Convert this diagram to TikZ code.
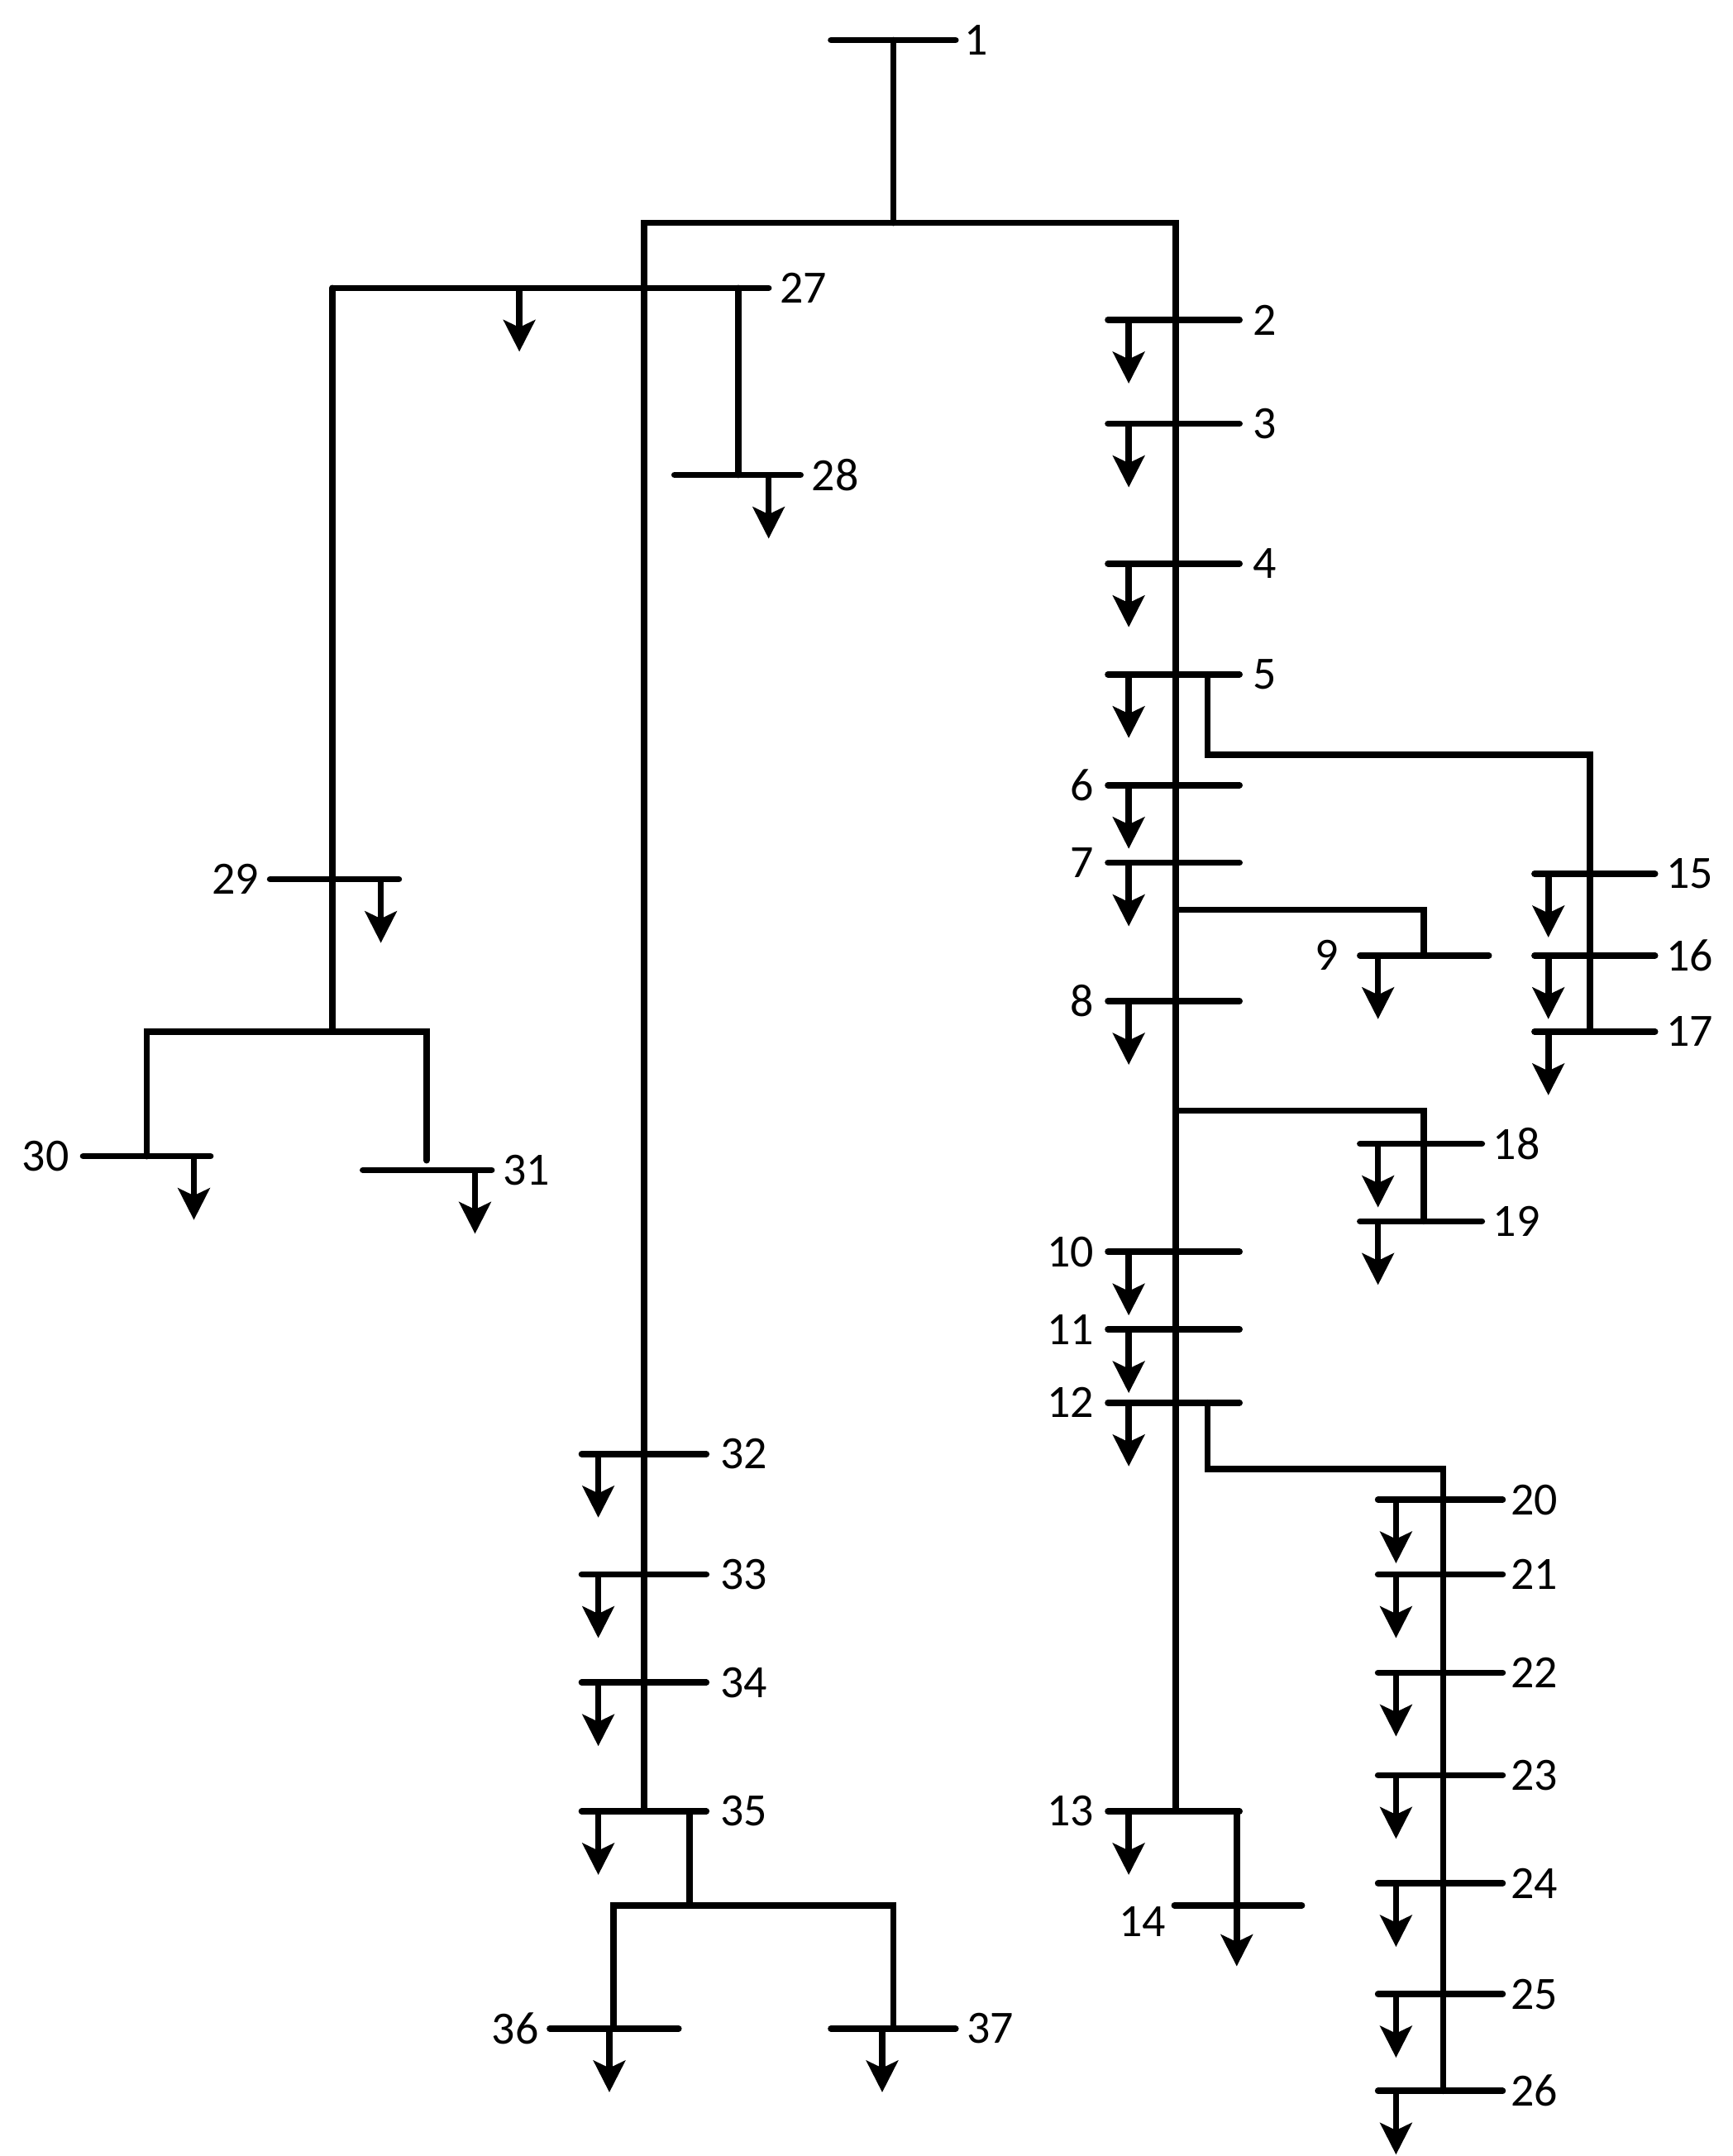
\documentclass[tikz,border=0pt]{standalone}
\usepackage{fontspec}
\setmainfont{Carlito}
\usetikzlibrary{arrows.meta,positioning}
\tikzset{
  % feeder line
  feeder/.style={line width=2.6pt, line cap=round},
  % bus bar
  busbar/.style={line width=2.6pt, line cap=round},
  % load arrow
  load/.style={line width=2.6pt, -{Stealth[length=13pt,width=13pt,inset=3pt]}},
  % bus number
  busno/.style={font=\fontsize{19}{20}\selectfont, inner sep=0pt}
}
\newcommand{\busbar}[4]{% x1, x2, y, name
  \draw[busbar] (#1,#3) -- (#2,#3);
  \coordinate (#4) at (#1,#3);}
\newcommand{\loadat}[2]{\draw[load] (#1,#2) -- ++(0,46);}
\begin{document}
\begin{tikzpicture}[x=0.02cm,y=-0.02cm]
  \useasboundingbox (0,0) rectangle (1251,1557);

  % main feeders
  \busbar{600}{690}{29}{b1}
  \node[busno] (n1) at (705,29) {1};
  \draw[feeder] (645,29) -- (645,161);
  \draw[feeder] (465,1308) -- (465,161) -- (849,161) -- (849,1308);

  % lateral 27--31
  \busbar{240}{555}{208}{b27}
  \node[busno] (n27) at (580,208) {27};
  \loadat{375}{208}
  \draw[feeder] (533,208) -- (533,343);
  \busbar{487}{578}{343}{b28}
  \node[busno] (n28) at (603,343) {28};
  \loadat{555}{343}
  \draw[feeder] (240,208) -- (240,745);
  \busbar{195}{288}{635}{b29}
  \node[busno] (n29) at (170,635) {29};
  \loadat{275}{635}
  \draw[feeder] (106,835) -- (106,745) -- (308,745) -- (308,838);
  \busbar{60}{152}{835}{b30}
  \node[busno] (n30) at (33,835) {30};
  \loadat{140}{835}
  \busbar{262}{355}{845}{b31}
  \node[busno] (n31) at (380,845) {31};
  \loadat{343}{845}

  % buses on right trunk, number on the right
  \foreach \y/\n in {231/2, 306/3, 407/4, 487/5}{
    \busbar{800}{895}{\y}{b\n}
    \node[busno] at (913,\y) {\n};
    \loadat{815}{\y}
  }
  % buses on right trunk, number on the left
  \foreach \y/\n in {567/6, 623/7, 723/8, 904/10, 960/11, 1013/12, 1308/13}{
    \busbar{800}{895}{\y}{b\n}
    \node[busno, anchor=east] at (790,\y) {\n};
    \loadat{815}{\y}
  }

  % lateral 15--17
  \draw[feeder] (872,487) -- (872,545) -- (1148,545) -- (1148,745);
  \foreach \y/\n in {631/15, 690/16, 745/17}{
    \busbar{1108}{1195}{\y}{b\n}
    \node[busno] at (1220,\y) {\n};
    \loadat{1118}{\y}
  }

  % lateral 9
  \draw[feeder] (849,657) -- (1028,657) -- (1028,690);
  \busbar{982}{1075}{690}{b9}
  \node[busno] (n9) at (958,690) {9};
  \loadat{995}{690}

  % lateral 18--19
  \draw[feeder] (849,802) -- (1028,802) -- (1028,882);
  \foreach \y/\n in {826/18, 882/19}{
    \busbar{982}{1070}{\y}{b\n}
    \node[busno] at (1095,\y) {\n};
    \loadat{995}{\y}
  }

  % lateral 20--26
  \draw[feeder] (872,1013) -- (872,1061) -- (1042,1061) -- (1042,1510);
  \foreach \y/\n in {1083/20, 1137/21, 1208/22, 1282/23, 1360/24, 1440/25, 1510/26}{
    \busbar{995}{1085}{\y}{b\n}
    \node[busno] at (1108,\y) {\n};
    \loadat{1008}{\y}
  }

  % lateral 14
  \draw[feeder] (849,1308) -- (893,1308) -- (893,1376);
  \busbar{848}{940}{1376}{b14}
  \node[busno] (n14) at (825,1388) {14};
  \draw[load] (893,1376) -- (893,1420);

  % buses on left trunk
  \foreach \y/\n in {1050/32, 1137/33, 1215/34, 1308/35}{
    \busbar{420}{510}{\y}{b\n}
    \node[busno] at (537,\y) {\n};
    \loadat{432}{\y}
  }

  % lateral 36--37
  \draw[feeder] (498,1308) -- (498,1376);
  \draw[feeder] (443,1465) -- (443,1376) -- (645,1376) -- (645,1465);
  \busbar{397}{490}{1465}{b36}
  \node[busno] (n36) at (372,1465) {36};
  \loadat{440}{1465}
  \busbar{600}{690}{1465}{b37}
  \node[busno] (n37) at (715,1465) {37};
  \loadat{637}{1465}
\end{tikzpicture}
\end{document}
